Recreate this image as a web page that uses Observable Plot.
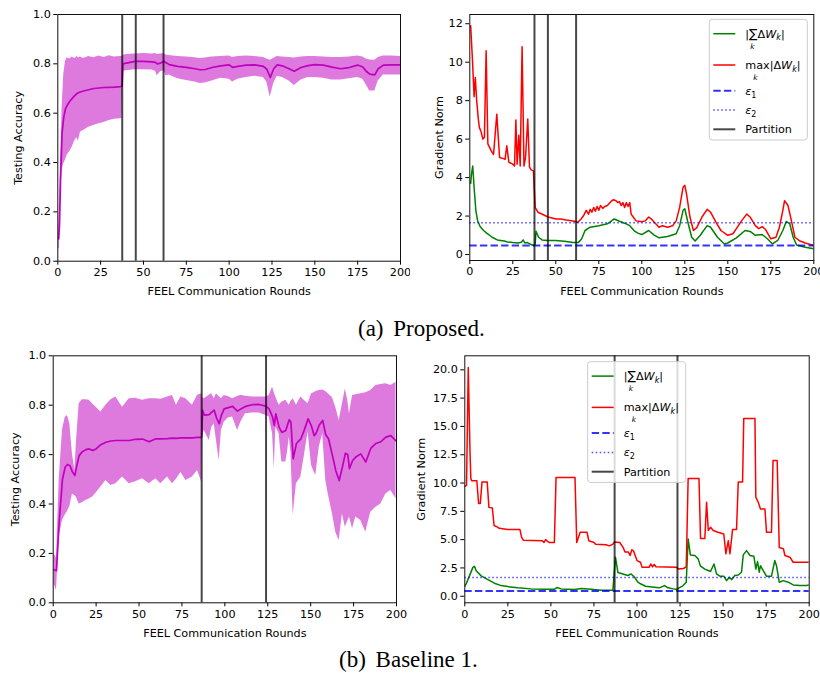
<!DOCTYPE html>
<html><head><meta charset="utf-8">
<script src="https://cdn.jsdelivr.net/npm/d3@7"></script>
<script src="https://cdn.jsdelivr.net/npm/@observablehq/plot@0.6"></script>
<style>
body{margin:0;background:#fff;}
#wrap{position:relative;width:820px;height:683px;overflow:hidden;background:#fff;}
.panel{position:absolute;width:410px;height:300px;overflow:hidden;}
.cap{position:absolute;font-family:"Liberation Serif","Times New Roman",serif;font-size:23px;color:#000;white-space:pre;line-height:26px;}
.cap .lab{margin-right:4px;}
</style></head><body><div id="wrap"></div>
<script>
// ---------- (a) Proposed: testing accuracy ----------
const p1Rounds = [0.5,1,1.6,2.5,3.5,4.5,5.5,7,8.4,10,11.3,12,13.2,15,18,21,24,27,30,33,36.6,37.5,38,40,45,50,55,57,58,60,62,63,65,70,75,80,83,86,90,95,100,102,105,110,115,120,122,124,126,128,131,135,138,142,146,150,155,160,165,170,175,178,180,182,185,187,190,195,200];
const p1Upper = [0.12,0.25,0.40,0.62,0.76,0.81,0.825,0.82,0.828,0.822,0.83,0.824,0.828,0.822,0.83,0.825,0.832,0.826,0.833,0.828,0.83,0.83,0.834,0.838,0.84,0.842,0.84,0.842,0.838,0.84,0.842,0.836,0.834,0.83,0.828,0.825,0.822,0.824,0.828,0.83,0.832,0.826,0.83,0.832,0.83,0.826,0.82,0.815,0.822,0.83,0.828,0.826,0.824,0.828,0.83,0.83,0.828,0.826,0.826,0.828,0.832,0.828,0.82,0.816,0.815,0.826,0.832,0.832,0.83];
const p1Lower = [0.05,0.05,0.25,0.37,0.395,0.41,0.43,0.445,0.462,0.49,0.50,0.485,0.523,0.53,0.543,0.55,0.557,0.562,0.57,0.575,0.577,0.578,0.77,0.772,0.776,0.776,0.775,0.77,0.752,0.768,0.772,0.752,0.755,0.74,0.732,0.726,0.72,0.722,0.73,0.742,0.738,0.726,0.738,0.745,0.75,0.745,0.725,0.665,0.72,0.75,0.745,0.73,0.712,0.735,0.745,0.745,0.742,0.735,0.735,0.74,0.745,0.738,0.715,0.69,0.69,0.73,0.755,0.755,0.755];
const p1Mean = [0.09,0.15,0.33,0.52,0.585,0.618,0.632,0.648,0.66,0.672,0.68,0.683,0.686,0.69,0.695,0.70,0.702,0.704,0.705,0.706,0.708,0.71,0.80,0.803,0.81,0.81,0.808,0.806,0.80,0.803,0.81,0.805,0.797,0.79,0.786,0.78,0.776,0.777,0.785,0.792,0.796,0.786,0.79,0.795,0.796,0.79,0.778,0.745,0.78,0.796,0.792,0.78,0.77,0.785,0.793,0.797,0.795,0.787,0.78,0.785,0.795,0.787,0.77,0.758,0.755,0.78,0.795,0.796,0.796];
const p1Partitions = [37.6, 45.5, 61.7];

// ---------- (a) Proposed: gradient norm ----------
const p2RedRounds = [0.5,1.5,2.5,3.2,4,5,5.6,6.5,7.6,8.5,9.5,10.5,12.4,13.8,15.7,17.3,19.2,20.5,21.5,22.7,25,26,26.8,27.5,28.5,29.3,30.4,31.5,32.4,33.7,34.7,35.7,37,38,39.6,42.5,45.4,50.2,53,56,60.9,62.8,64.7,66,67.7,69,70,71,72,73,74,75,76,77.3,78.5,80,82,83.5,85,86,87,88,89,90,91,92,93,93.8,95,96.7,100,102,104,105.5,107,110,112,115,118,120,122,124,125,126,128,130,132,135,138,140,143,146,150,153,155,158,161,163,166,168,170,172,175,178,180,182,183,185,187,189,192,195,200];
const p2Red = [11.9,10.2,8.2,9.2,8.0,7.0,6.6,6.4,6.0,6.1,10.6,5.75,5.4,5.2,7.3,5.05,5.0,4.95,5.65,4.8,4.7,4.6,7.0,4.7,6.2,4.6,10.8,4.6,5.05,7.05,4.55,4.4,4.35,2.45,2.2,2.08,1.95,1.85,1.85,1.8,1.73,1.68,1.85,2.0,2.3,2.1,2.35,2.2,2.45,2.25,2.5,2.3,2.55,2.4,2.5,2.55,2.75,2.85,2.8,2.7,2.75,2.55,2.7,2.45,2.7,2.5,2.7,2.1,1.95,1.75,1.7,1.75,1.95,1.85,1.7,1.42,1.5,1.42,1.5,1.75,2.45,3.5,3.6,3.15,1.95,1.25,1.4,1.95,2.35,2.2,1.7,1.25,1.0,1.08,1.35,1.75,2.1,1.95,1.5,1.35,1.45,1.3,0.82,0.9,1.42,2.3,2.8,2.55,1.75,0.9,0.7,0.6,0.47];
const p2GreenRounds = [0.5,1,1.7,2.5,3.5,4.5,6,8,10,13,16,20,22,25,28,30,31,32,33.5,35,37,38,38.5,40,42,45,50,55,60,63,65,67,70,75,80,84,87,90,93,96,98,100,104,107,110,115,120,122,124,125,127,129,131,134,138,140,144,148,150,155,160,163,166,170,173,176,179,182,184,186,188,190,195,200];
const p2Green = [3.7,4.2,4.6,3.5,2.3,1.77,1.46,1.25,1.1,0.9,0.76,0.7,0.65,0.62,0.6,0.64,0.76,0.6,0.62,0.55,0.47,0.55,1.21,0.9,0.76,0.73,0.73,0.69,0.62,0.62,0.81,1.25,1.42,1.5,1.6,1.85,1.73,1.63,1.5,1.2,1.1,1.04,1.25,1.02,0.87,0.94,1.08,1.5,2.3,2.38,1.6,0.9,0.7,1.0,1.5,1.42,0.9,0.55,0.6,0.87,1.25,1.2,1.0,1.04,0.82,0.55,0.73,1.25,1.72,1.6,0.9,0.5,0.38,0.3];
const p2Partitions = [37.6, 45.4, 61.8];
const epsilons = [0.47, 1.65];

// ---------- (b) Baseline 1: testing accuracy ----------
const p3Rounds = [0.5,1.9,3.5,5.4,7,8.3,9.7,11.2,12.6,13.6,15.1,17,19,21,23,25,27.7,30.7,33.6,36.5,40.4,44.3,48,52,55.9,59.8,62.7,66.6,69.5,71.8,74.4,77.3,81.1,84.1,86.5,87,88,90.9,92.4,93.8,95.1,96.7,98,99.6,102,104.5,107.4,109.3,112,116,120,123.9,125.8,127.8,128.8,129.7,131.6,133.2,135.5,136.5,137.5,138.5,139.8,141.7,144.3,146.2,148.5,150.5,152,153,155,157,158.8,160.4,162.7,164.6,166.6,168.5,170.2,171.6,172.6,174.4,176.3,179.2,182.1,185,188,190.9,193.8,196.7,199.7];
const p3Upper = [0.2,0.18,0.5,0.7,0.75,0.758,0.725,0.603,0.536,0.657,0.806,0.822,0.822,0.82,0.805,0.792,0.772,0.8,0.822,0.833,0.792,0.826,0.828,0.82,0.826,0.826,0.824,0.833,0.839,0.8,0.833,0.826,0.8,0.84,0.846,0.83,0.826,0.84,0.846,0.826,0.846,0.835,0.826,0.839,0.835,0.826,0.835,0.84,0.836,0.833,0.833,0.833,0.839,0.873,0.85,0.833,0.8,0.812,0.82,0.81,0.8,0.815,0.826,0.8,0.833,0.82,0.806,0.846,0.85,0.855,0.86,0.862,0.855,0.845,0.83,0.792,0.738,0.806,0.866,0.82,0.765,0.839,0.842,0.846,0.85,0.86,0.88,0.884,0.887,0.88,0.893];
const p3Lower = [0.077,0.05,0.266,0.333,0.355,0.37,0.39,0.44,0.434,0.425,0.40,0.405,0.414,0.42,0.428,0.445,0.468,0.495,0.475,0.482,0.509,0.482,0.49,0.502,0.482,0.502,0.482,0.509,0.482,0.50,0.529,0.495,0.509,0.536,0.489,0.68,0.698,0.657,0.711,0.725,0.657,0.576,0.698,0.731,0.748,0.752,0.698,0.731,0.765,0.768,0.768,0.758,0.752,0.684,0.543,0.711,0.684,0.57,0.57,0.61,0.671,0.61,0.354,0.482,0.509,0.59,0.691,0.556,0.53,0.516,0.63,0.684,0.495,0.434,0.36,0.286,0.252,0.36,0.306,0.33,0.347,0.30,0.347,0.333,0.286,0.367,0.387,0.40,0.44,0.455,0.421];
const p3Mean = [0.134,0.13,0.33,0.50,0.55,0.56,0.556,0.53,0.515,0.55,0.596,0.612,0.62,0.623,0.617,0.623,0.64,0.65,0.655,0.657,0.657,0.657,0.662,0.663,0.652,0.664,0.664,0.665,0.667,0.666,0.668,0.668,0.668,0.67,0.67,0.78,0.76,0.762,0.772,0.78,0.75,0.725,0.76,0.785,0.79,0.795,0.776,0.785,0.795,0.802,0.803,0.796,0.785,0.752,0.718,0.765,0.711,0.69,0.698,0.72,0.741,0.731,0.583,0.645,0.664,0.698,0.745,0.715,0.677,0.684,0.72,0.738,0.68,0.664,0.596,0.536,0.495,0.55,0.605,0.60,0.543,0.576,0.59,0.603,0.57,0.625,0.645,0.652,0.671,0.677,0.655];
const p3Partitions = [86.5, 124];

// ---------- (b) Baseline 1: gradient norm ----------
const p4RedRounds = [0,1,2,3,3.5,4,7,8,9,10,13,14,16,17,19,20,25,32,33,34,45,46,47,48,49,52,53,64,65,67,71,72,75,76,82,84,86,87,90,92,93,95,96,97,98,100,102,103,107,108,109,110,111,123,124,127,128.6,129.7,136,136.9,139.4,140.4,141.4,142.7,144.3,147,150.4,151.6,153,154,155.5,157.8,158.8,161.3,162,168.5,169,170.4,171.7,174.3,175.2,178.1,179,181.4,182.6,185,185.9,188.8,190.7,200];
const p4Red = [9.7,9.8,20.2,12.9,10.4,10.2,10.2,8.2,8.2,10.1,10.1,7.85,7.8,6.25,6.1,6.0,5.9,5.9,5.2,4.95,4.9,4.75,5.0,4.85,4.75,4.75,10.5,10.5,4.75,5.65,5.65,4.9,4.75,4.6,4.55,4.45,4.6,4.8,4.75,4.3,3.9,3.9,3.6,4.1,4.0,3.15,3.0,2.55,2.55,2.85,2.6,2.8,2.6,2.55,2.4,2.45,2.6,10.4,10.4,5.1,5.1,8.3,5.8,6.1,5.8,5.65,5.5,3.75,4.9,3.75,5.9,5.9,10.1,10.1,15.7,15.7,8.75,8.3,7.7,7.7,5.65,5.65,12.0,12.0,4.3,4.2,3.6,3.45,3.0,3.0];
const p4GreenRounds = [0,0.8,2.7,4.7,5.6,6.6,9.5,13.4,17.2,21.1,25,30.8,38.5,46.3,52.1,53.5,56,63.7,67.6,73.4,79.2,86,87.5,88.9,91.8,94.7,96.6,98.6,100.5,102,105,110,113,116,118,121,123,124,126.8,128.6,129.7,131,133.6,135.5,136.9,139.4,141.4,142.7,144.7,146.2,148.1,150.4,152,153.6,155,156.8,158.8,160.7,161.7,163.6,165.6,167.9,169,170,171,171.7,173.3,175.2,178.1,180,181,182.6,185,187.8,190.7,194.6,198.5,200];
const p4Green = [0.9,1.1,1.8,2.55,2.65,2.25,1.8,1.47,1.15,0.94,0.85,0.74,0.65,0.62,0.62,0.77,0.65,0.6,0.68,0.62,0.53,0.53,3.45,2.1,1.97,1.83,1.97,1.68,1.24,1.1,0.88,0.8,0.74,0.94,0.74,0.65,0.59,0.7,0.94,1.24,5.06,3.65,3.6,3.3,2.65,2.4,2.27,2.18,2.85,1.97,1.77,1.77,1.38,1.68,1.47,1.83,1.88,2.12,3.65,4.03,3.6,3.53,2.4,3.06,2.12,2.7,2.27,1.77,1.77,3.15,2.7,1.24,1.38,1.24,1.0,0.94,0.94,1.0];
const p4Partitions = [87, 123.5];

// ---------- shared labels / ticks ----------
const xTicks = [0,25,50,75,100,125,150,175,200];
const accTicks = [0,0.2,0.4,0.6,0.8,1.0];
const p2Ticks = [0,2,4,6,8,10,12];
const p4Ticks = [0,2.5,5,7.5,10,12.5,15,17.5,20];
const xLabel = "FEEL Communication Rounds";
const accLabel = "Testing Accuracy";
const normLabel = "Gradient Norm";
const captionLabels = ["(a)", "(b)"];
const captionTexts = ["Proposed.", "Baseline 1."];

const MAG = "#bf00bf", RED = "#ff0000", GREEN = "#008000", BLUE = "#0000ff";
const FONT = "DejaVu Sans";

function rows(xs, ...cols) { return xs.map((x, i) => ({x, ...Object.fromEntries(cols.map(([k, a]) => [k, a[i]]))})); }

function makePlot(o) {
  return Plot.plot({
    width: 410, height: 300,
    marginLeft: o.m[0], marginRight: o.m[1], marginTop: o.m[2], marginBottom: o.m[3],
    style: {fontFamily: FONT, fontSize: "11.2px", color: "black", background: "transparent", overflow: "hidden"},
    x: {domain: [0, 200], ticks: xTicks, tickSize: 4, tickPadding: 3, label: xLabel, labelAnchor: "center", labelArrow: "none", labelOffset: 34},
    y: {domain: o.yDomain, ticks: o.yTicks, tickFormat: o.yFormat, tickSize: 4, tickPadding: 3, label: o.yLabel, labelAnchor: "center", labelArrow: "none", labelOffset: o.yLabelOffset},
    marks: [...o.marks, Plot.frame({stroke: "#111", strokeWidth: 1})]
  });
}

function accMarks(rs, up, lo, mean, parts) {
  const d = rows(rs, ["up", up], ["lo", lo], ["mean", mean]);
  return [
    Plot.areaY(d, {x: "x", y1: "lo", y2: "up", fill: MAG, fillOpacity: 0.52, clip: true}),
    Plot.line(d, {x: "x", y: "mean", stroke: MAG, strokeWidth: 1.7, clip: true}),
    Plot.ruleX(parts, {stroke: "black", strokeOpacity: 0.72, strokeWidth: 2})
  ];
}

function normMarks(rr, rv, gr, gv, parts) {
  return [
    Plot.line(rows(gr, ["y", gv]), {x: "x", y: "y", stroke: GREEN, strokeWidth: 1.5, clip: true}),
    Plot.line(rows(rr, ["y", rv]), {x: "x", y: "y", stroke: RED, strokeWidth: 1.5, clip: true}),
    Plot.ruleY([epsilons[0]], {stroke: BLUE, strokeOpacity: 0.8, strokeWidth: 2, strokeDasharray: "7.4,3.2"}),
    Plot.ruleY([epsilons[1]], {stroke: BLUE, strokeOpacity: 0.7, strokeWidth: 1.5, strokeDasharray: "1.5,2.5"}),
    Plot.ruleX(parts, {stroke: "black", strokeOpacity: 0.72, strokeWidth: 2})
  ];
}

const legendItems = [
  {kind: "sum", color: GREEN, dash: null, w: 1.5, op: 1},
  {kind: "max", color: RED, dash: null, w: 1.5, op: 1},
  {kind: "e1", color: BLUE, dash: "7.4,3.2", w: 2, op: 0.8},
  {kind: "e2", color: BLUE, dash: "1.5,2.5", w: 1.5, op: 0.7},
  {kind: "part", color: "black", dash: null, w: 2, op: 0.72}
];
const legendRowY = [14.4, 45.7, 71.4, 90.7, 110];

function addLegend(svg, x0, y0) {
  const g = d3.select(svg).append("g").attr("font-family", FONT).attr("font-size", 11.2)
    .attr("fill", "black").attr("text-anchor", "start");
  g.append("rect").attr("x", x0).attr("y", y0).attr("width", 98).attr("height", 120.7).attr("rx", 3)
    .attr("fill", "white").attr("fill-opacity", 0.8).attr("stroke", "#cccccc").attr("stroke-width", 1);
  legendItems.forEach((it, i) => {
    const y = y0 + legendRowY[i];
    g.append("line").attr("x1", x0 + 4).attr("x2", x0 + 26).attr("y1", y).attr("y2", y)
      .attr("stroke", it.color).attr("stroke-width", it.w).attr("stroke-opacity", it.op)
      .attr("stroke-dasharray", it.dash);
    const tx = x0 + 36;
    const t = g.append("text").attr("x", tx).attr("y", y + 4);
    if (it.kind === "sum") {
      t.append("tspan").text("|");
      t.append("tspan").attr("font-size", 12.5).text("∑");
      t.append("tspan").text("Δ");
      t.append("tspan").attr("font-style", "italic").text("W");
      t.append("tspan").attr("font-size", 8).attr("font-style", "italic").attr("dy", 2.5).text("k");
      t.append("tspan").attr("dy", -2.5).text("|");
      g.append("text").attr("x", tx + 5).attr("y", y + 15).attr("font-size", 7.5).attr("font-style", "italic").text("k");
    } else if (it.kind === "max") {
      t.append("tspan").text("max|Δ");
      t.append("tspan").attr("font-style", "italic").text("W");
      t.append("tspan").attr("font-size", 8).attr("font-style", "italic").attr("dy", 2.5).text("k");
      t.append("tspan").attr("dy", -2.5).text("|");
      g.append("text").attr("x", tx + 8).attr("y", y + 15).attr("font-size", 7.5).attr("font-style", "italic").text("k");
    } else if (it.kind === "e1" || it.kind === "e2") {
      t.append("tspan").attr("font-style", "italic").text("ε");
      t.append("tspan").attr("font-size", 8).attr("dy", 3).text(it.kind === "e1" ? "1" : "2");
    } else {
      t.text("Partition");
    }
  });
}

const wrap = document.getElementById("wrap");
function place(node, left, top) {
  const div = document.createElement("div");
  div.className = "panel";
  div.style.left = left + "px";
  div.style.top = top + "px";
  div.appendChild(node);
  wrap.appendChild(div);
}

const f1 = d3.format(".1f");

const pl1 = makePlot({m: [57.3, 10, 14, 39.3], yDomain: [0, 1], yTicks: accTicks, yFormat: f1, yLabel: accLabel, yLabelOffset: 44,
  marks: accMarks(p1Rounds, p1Upper, p1Lower, p1Mean, p1Partitions)});
place(pl1, 0, 0);

const pl2 = makePlot({m: [59.3, 6.7, 14, 40], yDomain: [-0.31, 12.48], yTicks: p2Ticks, yFormat: d3.format("d"), yLabel: normLabel, yLabelOffset: 35,
  marks: normMarks(p2RedRounds, p2Red, p2GreenRounds, p2Green, p2Partitions)});
addLegend(pl2, 299.3, 19.3);
place(pl2, 410, 0);

const pl3 = makePlot({m: [52.7, 14, 15.3, 37.7], yDomain: [0, 1], yTicks: accTicks, yFormat: f1, yLabel: accLabel, yLabelOffset: 42,
  marks: accMarks(p3Rounds, p3Upper, p3Lower, p3Mean, p3Partitions)});
place(pl3, 0, 340);

const pl4 = makePlot({m: [54.3, 11.3, 15.3, 37.7], yDomain: [-0.58, 21.24], yTicks: p4Ticks, yFormat: f1, yLabel: normLabel, yLabelOffset: 48,
  marks: normMarks(p4RedRounds, p4Red, p4GreenRounds, p4Green, p4Partitions)});
addLegend(pl4, 177.7, 21.7);
place(pl4, 410, 340);

[[0, 358, 316], [1, 339, 647]].forEach(([i, left, top]) => {
  const c = document.createElement("div");
  c.className = "cap";
  c.style.left = left + "px";
  c.style.top = top + "px";
  const a = document.createElement("span");
  a.className = "lab";
  a.textContent = captionLabels[i] + " ";
  c.appendChild(a);
  c.appendChild(document.createTextNode(captionTexts[i]));
  wrap.appendChild(c);
});
</script></body></html>
